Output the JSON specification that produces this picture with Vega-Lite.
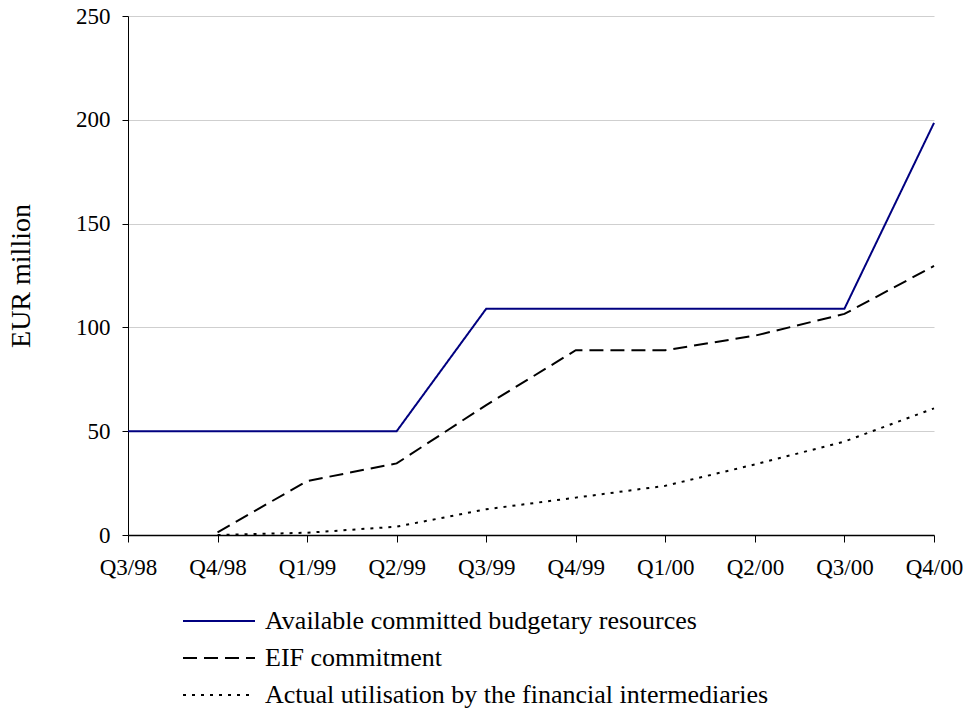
{
  "$schema": "https://vega.github.io/schema/vega-lite/v6.json",
  "autosize": "none",
  "width": 806,
  "height": 519,
  "padding": {"left": 128, "top": 16, "right": 33, "bottom": 176},
  "background": "white",
  "config": {
    "font": "Liberation Serif",
    "view": {"stroke": null},
    "axis": {
      "labelFont": "Liberation Serif",
      "titleFont": "Liberation Serif",
      "labelColor": "black",
      "titleColor": "black",
      "domainColor": "black",
      "tickColor": "black",
      "labelFontSize": 23,
      "titleFontSize": 28,
      "titleFontWeight": "normal"
    },
    "legend": {
      "labelFont": "Liberation Serif",
      "labelFontSize": 26,
      "labelColor": "black",
      "labelLimit": 0,
      "padding": 0
    }
  },
  "data": {
    "values": [
      {"quarter": "Q3/98", "series": "Available committed budgetary resources", "value": 50},
      {"quarter": "Q4/98", "series": "Available committed budgetary resources", "value": 50},
      {"quarter": "Q1/99", "series": "Available committed budgetary resources", "value": 50},
      {"quarter": "Q2/99", "series": "Available committed budgetary resources", "value": 50},
      {"quarter": "Q3/99", "series": "Available committed budgetary resources", "value": 109},
      {"quarter": "Q4/99", "series": "Available committed budgetary resources", "value": 109},
      {"quarter": "Q1/00", "series": "Available committed budgetary resources", "value": 109},
      {"quarter": "Q2/00", "series": "Available committed budgetary resources", "value": 109},
      {"quarter": "Q3/00", "series": "Available committed budgetary resources", "value": 109},
      {"quarter": "Q4/00", "series": "Available committed budgetary resources", "value": 198.5},
      {"quarter": "Q4/98", "series": "EIF commitment", "value": 1.3},
      {"quarter": "Q1/99", "series": "EIF commitment", "value": 26},
      {"quarter": "Q2/99", "series": "EIF commitment", "value": 34.5},
      {"quarter": "Q3/99", "series": "EIF commitment", "value": 62.6},
      {"quarter": "Q4/99", "series": "EIF commitment", "value": 89},
      {"quarter": "Q1/00", "series": "EIF commitment", "value": 89},
      {"quarter": "Q2/00", "series": "EIF commitment", "value": 96},
      {"quarter": "Q3/00", "series": "EIF commitment", "value": 106.5},
      {"quarter": "Q4/00", "series": "EIF commitment", "value": 129.6},
      {"quarter": "Q4/98", "series": "Actual utilisation by the financial intermediaries", "value": 0},
      {"quarter": "Q1/99", "series": "Actual utilisation by the financial intermediaries", "value": 1.1},
      {"quarter": "Q2/99", "series": "Actual utilisation by the financial intermediaries", "value": 4},
      {"quarter": "Q3/99", "series": "Actual utilisation by the financial intermediaries", "value": 12.4},
      {"quarter": "Q4/99", "series": "Actual utilisation by the financial intermediaries", "value": 18},
      {"quarter": "Q1/00", "series": "Actual utilisation by the financial intermediaries", "value": 23.7},
      {"quarter": "Q2/00", "series": "Actual utilisation by the financial intermediaries", "value": 34},
      {"quarter": "Q3/00", "series": "Actual utilisation by the financial intermediaries", "value": 45},
      {"quarter": "Q4/00", "series": "Actual utilisation by the financial intermediaries", "value": 61}
    ]
  },
  "mark": {"type": "line", "strokeWidth": 2},
  "encoding": {
    "x": {
      "field": "quarter",
      "type": "ordinal",
      "sort": ["Q3/98", "Q4/98", "Q1/99", "Q2/99", "Q3/99", "Q4/99", "Q1/00", "Q2/00", "Q3/00", "Q4/00"],
      "scale": {"type": "point", "padding": 0},
      "axis": {
        "title": null,
        "labelAngle": 0,
        "tickSize": 7,
        "labelPadding": 14,
        "grid": false,
        "domainWidth": 1.5
      }
    },
    "y": {
      "field": "value",
      "type": "quantitative",
      "scale": {"domain": [0, 250], "nice": false},
      "axis": {
        "title": "EUR million",
        "values": [0, 50, 100, 150, 200, 250],
        "tickSize": 6,
        "labelPadding": 12,
        "titlePadding": 40,
        "gridColor": "#cfcfcf",
        "gridWidth": 1,
        "domainWidth": 1
      }
    },
    "color": {
      "field": "series",
      "type": "nominal",
      "scale": {
        "domain": ["Available committed budgetary resources", "EIF commitment", "Actual utilisation by the financial intermediaries"],
        "range": ["#000080", "#000000", "#000000"]
      },
      "legend": {
        "title": null,
        "orient": "none",
        "legendX": 78,
        "legendY": 592,
        "direction": "vertical",
        "symbolType": "M-4,0H4",
        "symbolSize": 324,
        "symbolStrokeWidth": 2,
        "rowPadding": 11,
        "labelOffset": 33
      }
    },
    "strokeDash": {
      "field": "series",
      "type": "nominal",
      "scale": {
        "domain": ["Available committed budgetary resources", "EIF commitment", "Actual utilisation by the financial intermediaries"],
        "range": [[1, 0], [14, 7], [3, 6]]
      },
      "legend": null
    }
  }
}
